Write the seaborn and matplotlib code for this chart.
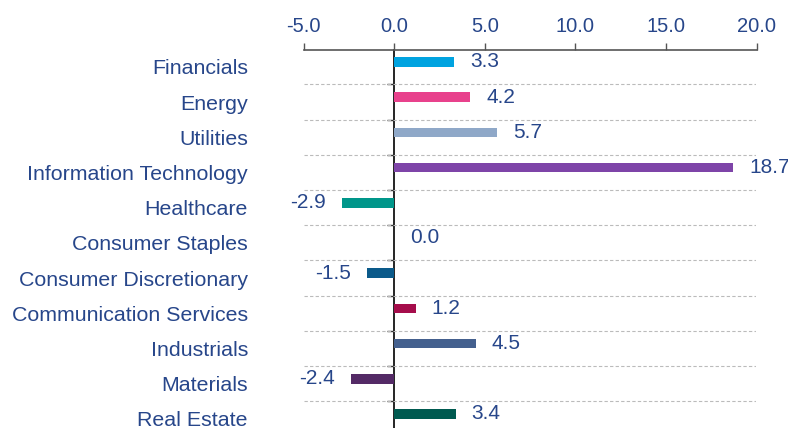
import matplotlib
matplotlib.use("Agg")
import matplotlib.pyplot as plt
import seaborn as sns
import pandas as pd
import numpy as np
from matplotlib.ticker import FixedLocator

categories = ["Financials", "Energy", "Utilities", "Information Technology", "Healthcare",
              "Consumer Staples", "Consumer Discretionary", "Communication Services",
              "Industrials", "Materials", "Real Estate"]
values = [3.3, 4.2, 5.7, 18.7, -2.9, 0.0, -1.5, 1.2, 4.5, -2.4, 3.4]
colors = ["#00A3E0", "#E8418C", "#8FA8C8", "#7E44A8", "#00968A", "#0B5A8A",
          "#0B5A8A", "#A50D4B", "#44608E", "#542A66", "#005A50"]
xticks = [-5.0, 0.0, 5.0, 10.0, 15.0, 20.0]

sns.set_theme(style="white")
plt.rcParams['font.family'] = ['Liberation Sans', 'DejaVu Sans']
navy = "#27468A"

df = pd.DataFrame({"cat": categories, "val": values})
fig = plt.figure(figsize=(7.88, 4.28), dpi=100)
ax = fig.add_axes([303.5/788, 0.0, 453/788, 1 - 50/428])

sns.barplot(data=df, x="val", y="cat", hue="cat", palette=dict(zip(categories, colors)),
            order=categories, width=0.27, legend=False, ax=ax, orient="h",
            saturation=1, linewidth=0, edgecolor="none")

for c in ax.containers:
    ax.bar_label(c, fmt="%.1f", padding=11.5, color=navy, fontsize=15)

n = len(categories)
ax.set_xlim(-5, 20)
ax.set_ylim(-0.34 + 378/35.2, -0.34)
ax.set_xlabel("")
ax.set_ylabel("")

# top axis
ax.xaxis.tick_top()
ax.set_xticks(xticks)
ax.set_xticklabels([f"{t:.1f}" for t in xticks])
ax.tick_params(axis="x", which="major", length=5, width=1, color="#555555",
               labelcolor=navy, labelsize=14.5, pad=5, top=True, bottom=False)
for s in ["left", "right", "bottom"]:
    ax.spines[s].set_visible(False)
ax.spines["top"].set_color("#555555")
ax.spines["top"].set_linewidth(1.2)

# category labels
ax.set_yticks([i + 0.14 for i in range(n)])
ax.set_yticklabels(categories)
ax.tick_params(axis="y", which="major", length=0, pad=40, labelcolor=navy, labelsize=15.4)

# boundaries grid
bounds = [i + 0.64 for i in range(n - 1)]
ax.yaxis.set_minor_locator(FixedLocator(bounds))
ax.tick_params(axis="y", which="minor", length=0)
ax.grid(which="minor", axis="y", color="#BBBBBB", linestyle=(0, (3, 2)), linewidth=0.8)
ax.grid(which="major", axis="both", visible=False)

# zero axis with boundary ticks
sec = ax.secondary_yaxis(location=0.2)
sec.set_yticks(bounds)
sec.set_yticklabels([])
sec.tick_params(axis="y", length=5, width=1, color="#333333", direction="out")
sec.spines["left"].set_color("black")
sec.spines["left"].set_linewidth(1.2)

fig.savefig("out.png", dpi=100)
